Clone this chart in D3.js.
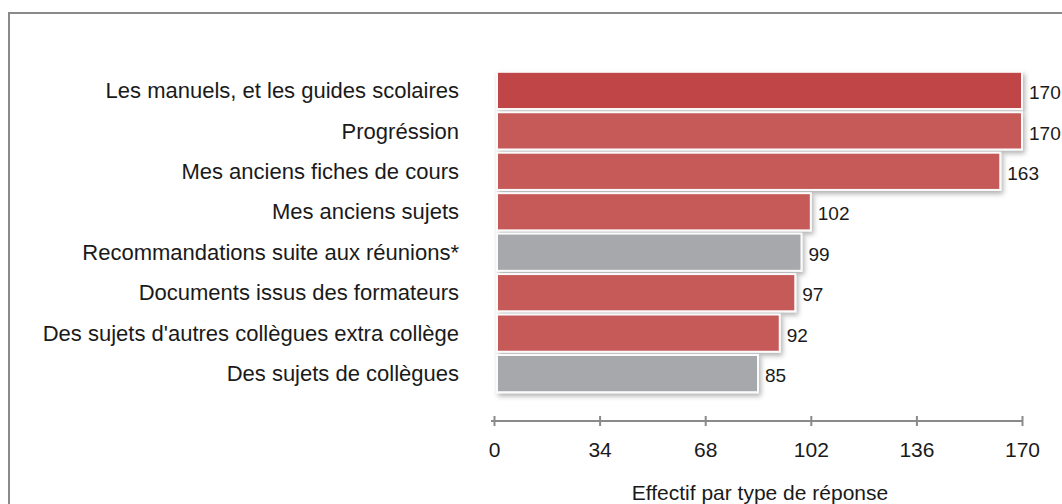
<!DOCTYPE html>
<html>
<head>
<meta charset="utf-8">
<script src="https://cdn.jsdelivr.net/npm/d3@7"></script>
<style>
  body { margin: 0; background: #fff; }
  text { font-family: "Liberation Sans", Arial, sans-serif; fill: #1a1a1a; }
</style>
</head>
<body>
<svg id="chart" width="1062" height="504"></svg>
<script>
// values
var categories = [
    "Les manuels, et les guides scolaires",
    "Progréssion",
    "Mes anciens fiches de cours",
    "Mes anciens sujets",
    "Recommandations suite aux réunions*",
    "Documents issus des formateurs",
    "Des sujets d'autres collègues extra collège",
    "Des sujets de collègues "
];
var counts = [170, 170, 163, 102, 99, 97, 92, 85];
var grey = [false, false, false, false, true, false, false, true];
var tickValues = [0, 34, 68, 102, 136, 170];
var axisTitle = "Effectif par type de réponse";

var svg = d3.select("#chart");

// outer frame
svg.append("rect")
    .attr("x", 9).attr("y", 13)
    .attr("width", 1070).attr("height", 520)
    .attr("fill", "none")
    .attr("stroke", "#8a8a8a")
    .attr("stroke-width", 2);

var defs = svg.append("defs");
var f = defs.append("filter").attr("id", "shadow")
    .attr("x", "-5%").attr("y", "-20%").attr("width", "110%").attr("height", "160%");
f.append("feDropShadow")
    .attr("dx", 2).attr("dy", 3)
    .attr("stdDeviation", 2.5)
    .attr("flood-color", "#000")
    .attr("flood-opacity", 0.3);

var x = d3.scaleLinear().domain([0, 170]).range([494, 1022]);
var y = d3.scaleBand().domain(categories).range([71, 393]).paddingInner(0.08).paddingOuter(0.02);

// bars
svg.selectAll(".bar")
    .data(categories)
    .enter().append("rect")
    .attr("class", "bar")
    .attr("x", x(0) + 3)
    .attr("y", function (d) { return y(d); })
    .attr("width", function (d, i) { return x(counts[i]) - x(0) - 3; })
    .attr("height", y.bandwidth())
    .attr("fill", function (d, i) { return grey[i] ? "#a7a8ab" : (i == 0 ? "#c04546" : "#c55a58"); })
    .attr("stroke", "#fbfbfb")
    .attr("stroke-width", 2)
    .attr("filter", "url(#shadow)");

// category labels
svg.selectAll(".cat")
    .data(categories)
    .enter().append("text")
    .attr("class", "cat")
    .attr("x", 459)
    .attr("y", function (d) { return y(d) + y.bandwidth() / 2; })
    .attr("dy", "0.35em")
    .attr("text-anchor", "end")
    .style("font-size", "22px")
    .text(function (d) { return d; });

// value labels
svg.selectAll(".val")
    .data(categories)
    .enter().append("text")
    .attr("class", "val")
    .attr("x", function (d, i) { return x(counts[i]) + 7; })
    .attr("y", function (d) { return y(d) + y.bandwidth() / 2 + 2; })
    .attr("dy", "0.35em")
    .style("font-size", "19px")
    .text(function (d, i) { return counts[i]; });

// x axis
var axis = svg.append("g")
    .attr("transform", "translate(0,421)")
    .call(d3.axisBottom(x).tickValues(tickValues).tickSize(0).tickPadding(21));
axis.select(".domain")
    .attr("stroke", "#8a8a8a").attr("stroke-width", 2)
    .attr("d", "M" + (x(0) - 3) + ",0H" + (x(170) + 1));
axis.selectAll(".tick line")
    .attr("y1", -5).attr("y2", 5)
    .attr("stroke", "#8a8a8a").attr("stroke-width", 2);
axis.selectAll(".tick text")
    .style("font-size", "21px")
    .attr("fill", "#1a1a1a")
    .style("font-family", "'Liberation Sans', Arial, sans-serif");

svg.append("text")
    .attr("x", 760)
    .attr("y", 500)
    .attr("text-anchor", "middle")
    .style("font-size", "21px")
    .text(axisTitle);
</script>
</body>
</html>
